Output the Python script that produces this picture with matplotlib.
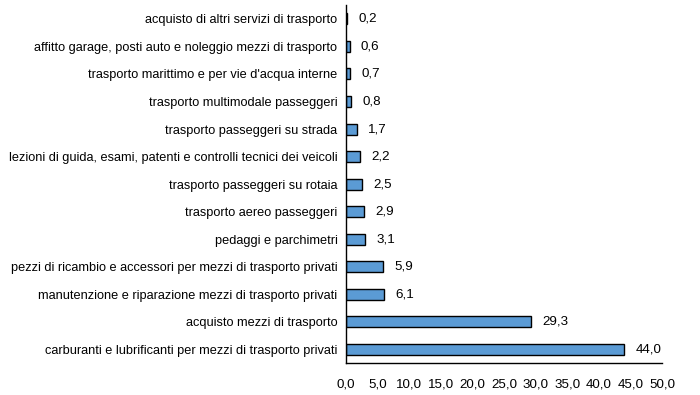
import matplotlib
matplotlib.use("Agg")
from matplotlib import pyplot as plt

categories = [
    "carburanti e lubrificanti per mezzi di trasporto privati",
    "acquisto mezzi di trasporto",
    "manutenzione e riparazione mezzi di trasporto privati",
    "pezzi di ricambio e accessori per mezzi di trasporto privati",
    "pedaggi e parchimetri",
    "trasporto aereo passeggeri",
    "trasporto passeggeri su rotaia",
    "lezioni di guida, esami, patenti e controlli tecnici dei veicoli",
    "trasporto passeggeri su strada",
    "trasporto multimodale passeggeri",
    "trasporto marittimo e per vie d'acqua interne",
    "affitto garage, posti auto e noleggio mezzi di trasporto",
    "acquisto di altri servizi di trasporto",
]
values = [44.0, 29.3, 6.1, 5.9, 3.1, 2.9, 2.5, 2.2, 1.7, 0.8, 0.7, 0.6, 0.2]
xticks = [0, 5, 10, 15, 20, 25, 30, 35, 40, 45, 50]

plt.rcParams['font.family'] = ['Liberation Sans', 'DejaVu Sans']
fs = 9.2

fig = plt.figure(figsize=(7, 3.95), dpi=100)
ax = fig.add_axes([0.494, 0.081, 0.452, 0.906])

y = list(range(len(categories)))
ax.barh(y, values, height=0.4, color="#5b9bd5", edgecolor="black", linewidth=1)
for yi, v in zip(y, values):
    ax.text(v + 1.8, yi, f"{v:.1f}".replace(".", ","), va="center", ha="left", fontsize=9.6)

ax.set_xlim(0, 50)
ax.set_ylim(-0.5, len(categories) - 0.5)
ax.set_yticks(y)
ax.set_yticklabels(categories, fontsize=fs)
ax.set_xticks(xticks)
ax.set_xticklabels([f"{t:.1f}".replace(".", ",") for t in xticks], fontsize=9.6)
ax.tick_params(axis="y", length=0, pad=6)
ax.tick_params(axis="x", length=0, pad=11)
for s in ["top", "right"]:
    ax.spines[s].set_visible(False)
ax.spines["left"].set_linewidth(1)
ax.spines["bottom"].set_linewidth(1)

fig.savefig("out.png", dpi=100)
